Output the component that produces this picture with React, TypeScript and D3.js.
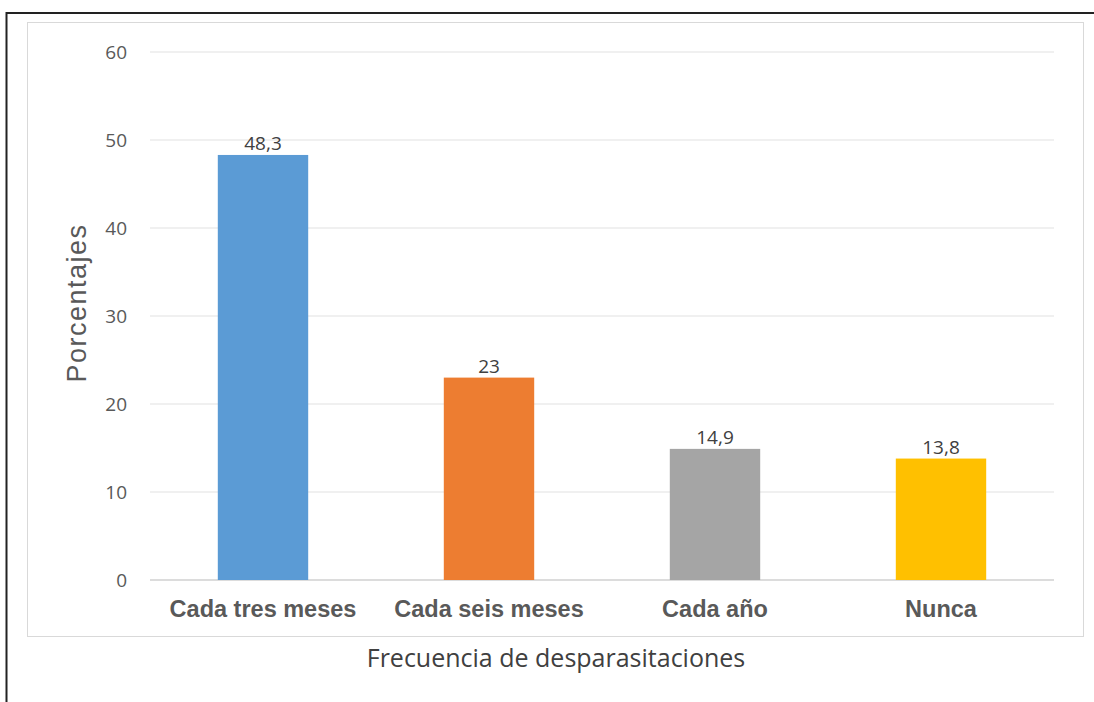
import React from "react";
import * as d3 from "d3";

const categories = ["Cada tres meses", "Cada seis meses", "Cada año", "Nunca"];
const values = [48.3, 23, 14.9, 13.8];
const valueLabels = ["48,3", "23", "14,9", "13,8"];
const colors = ["#5B9BD5", "#ED7D31", "#A5A5A5", "#FFC000"];
const yTicks = [0, 10, 20, 30, 40, 50, 60];

const W = 1094;
const H = 702;
const plot = { left: 150, right: 1054, top: 52, bottom: 580 };
const lightFont = "'Open Sans', 'DejaVu Sans', sans-serif";
const arialFont = "'Liberation Sans', Arial, sans-serif";

export default function App() {
  const x = d3
    .scaleBand<string>()
    .domain(categories)
    .range([plot.left, plot.right])
    .paddingInner(0.6)
    .paddingOuter(0.3);
  const y = d3.scaleLinear().domain([0, 60]).range([plot.bottom, plot.top]);

  return (
    <svg
      width={W}
      height={H}
      style={{ position: "absolute", left: 0, top: 0, background: "#fff" }}
    >
      {/* outer border, top and left edges */}
      <line x1={6.5} y1={13} x2={W} y2={13} stroke="#222" strokeWidth={2} />
      <line x1={6.5} y1={12} x2={6.5} y2={H} stroke="#222" strokeWidth={2} />
      {/* chart area frame */}
      <rect x={27.5} y={22.5} width={1056} height={614} fill="#fff" stroke="#d9d9d9" strokeWidth={1} />

      {/* gridlines and y ticks */}
      {yTicks.map((t) => (
        <g key={t}>
          <line
            x1={plot.left}
            x2={plot.right}
            y1={y(t)}
            y2={y(t)}
            stroke={t === 0 ? "#d0d0d0" : "#e2e2e2"}
            strokeWidth={t === 0 ? 1.5 : 1.2}
          />
          <text
            x={127}
            y={y(t)}
            dy="0.36em"
            textAnchor="end"
            fontFamily={lightFont}
            fontSize={19}
            fill="#595959"
          >
            {t}
          </text>
        </g>
      ))}

      {/* bars with value labels and category names */}
      {categories.map((c, i) => (
        <g key={c}>
          <rect
            x={x(c)}
            y={y(values[i])}
            width={x.bandwidth()}
            height={y(0) - y(values[i])}
            fill={colors[i]}
          />
          <text
            x={(x(c) as number) + x.bandwidth() / 2}
            y={y(values[i]) - 5}
            textAnchor="middle"
            fontFamily={lightFont}
            fontSize={19}
            fill="#404040"
          >
            {valueLabels[i]}
          </text>
          <text
            x={(x(c) as number) + x.bandwidth() / 2}
            y={617}
            textAnchor="middle"
            fontFamily={arialFont}
            fontWeight="bold"
            fontSize={23.5}
            fill="#595959"
          >
            {c}
          </text>
        </g>
      ))}

      {/* axis titles */}
      <text
        x={556}
        y={667}
        textAnchor="middle"
        fontFamily={lightFont}
        fontSize={25}
        fill="#404040"
      >
        Frecuencia de desparasitaciones
      </text>
      <text
        transform={`translate(86, 303) rotate(-90)`}
        textAnchor="middle"
        fontFamily={arialFont}
        fontSize={27}
        letterSpacing={1.5}
        fill="#595959"
      >
        Porcentajes
      </text>
    </svg>
  );
}
